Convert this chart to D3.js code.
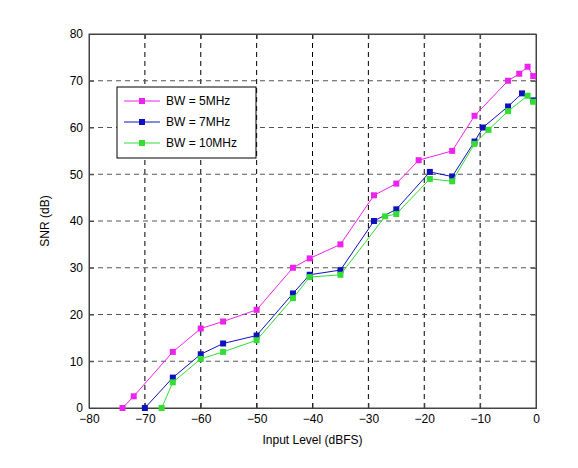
<!DOCTYPE html>
<html><head><meta charset="utf-8">
<script src="https://cdn.jsdelivr.net/npm/d3@7"></script>
<style>body{margin:0;background:#fff}svg{font-family:Arial,"Liberation Sans",sans-serif}</style>
</head><body><div id="chart"></div>
<script>
const xTicks = [-80, -70, -60, -50, -40, -30, -20, -10, 0];
const yTicks = [0, 10, 20, 30, 40, 50, 60, 70, 80];

const bw5 = [[-74,0],[-72,2.5],[-65,12],[-60,17],[-56,18.5],[-50,21],[-43.5,30],[-40.5,32],[-35,35],[-29,45.5],[-25,48],[-21,53],[-15,55],[-11,62.5],[-5,70],[-3,71.5],[-1.5,73],[-0.5,71]];
const bw7 = [[-70,0],[-65,6.5],[-60,11.5],[-56,13.8],[-50,15.5],[-43.5,24.5],[-40.5,28.5],[-35,29.5],[-29,40],[-25,42.5],[-19,50.5],[-15,49.5],[-11,57],[-9.5,60],[-5,64.5],[-2.5,67.3],[-0.5,65.8]];
const bw10 = [[-67,0],[-65,5.5],[-60,10.5],[-56,12],[-50,14.5],[-43.5,23.5],[-40.5,28],[-35,28.5],[-27,41],[-25,41.5],[-19,49],[-15,48.5],[-11,56.5],[-8.5,59.5],[-5,63.5],[-1.5,66.8],[-0.5,65.5]];

const seriesNames = ['BW = 5MHz', 'BW = 7MHz', 'BW = 10MHz'];
const seriesColors = ['#ee22ee', '#1010c0', '#33dd33'];
const seriesData = [bw5, bw7, bw10];

const svg = d3.select('#chart').append('svg').attr('width', 578).attr('height', 468);
const x = d3.scaleLinear().domain([-80, 0]).range([89, 536]);
const y = d3.scaleLinear().domain([0, 80]).range([408, 34]);

// grid
svg.append('g').selectAll('line').data(xTicks.slice(1, -1)).enter().append('line')
    .attr('x1', d => x(d)).attr('x2', d => x(d)).attr('y1', y(80)).attr('y2', y(0))
    .attr('stroke', '#000').attr('stroke-dasharray', '5,4').attr('stroke-width', 1);
svg.append('g').selectAll('line').data(yTicks.slice(1, -1)).enter().append('line')
    .attr('x1', x(-80)).attr('x2', x(0)).attr('y1', d => y(d)).attr('y2', d => y(d))
    .attr('stroke', '#555').attr('stroke-dasharray', '5,4').attr('stroke-width', 1);

svg.append('rect').attr('x', 89).attr('y', 34).attr('width', 447).attr('height', 374)
    .attr('fill', 'none').attr('stroke', '#444');

const xAxis = svg.append('g').attr('transform', 'translate(0,408)')
    .call(d3.axisBottom(x).tickValues(xTicks).tickSize(-5).tickPadding(6));
const yAxis = svg.append('g').attr('transform', 'translate(89,0)')
    .call(d3.axisLeft(y).tickValues(yTicks).tickSize(-5).tickPadding(6));
svg.append('g').attr('transform', 'translate(0,34)')
    .call(d3.axisTop(x).tickValues(xTicks).tickSize(-5).tickFormat(''));
svg.append('g').attr('transform', 'translate(536,0)')
    .call(d3.axisRight(y).tickValues(yTicks).tickSize(-5).tickFormat(''));
svg.selectAll('.domain').attr('stroke', '#444');
svg.selectAll('.tick line').attr('stroke', '#444');
svg.selectAll('.tick text').attr('font-size', 12).attr('fill', '#000');

svg.append('text').attr('x', x(-40)).attr('y', 444).attr('text-anchor', 'middle')
    .attr('font-size', 12).text('Input Level (dBFS)');
svg.append('text').attr('transform', 'translate(49,221) rotate(-90)').attr('text-anchor', 'middle')
    .attr('font-size', 12).text('SNR (dB)');

const line = d3.line().x(d => x(d[0])).y(d => y(d[1]));
seriesData.forEach((data, i) => {
    const g = svg.append('g');
    g.append('path').datum(data).attr('d', line).attr('fill', 'none')
        .attr('stroke', seriesColors[i]).attr('stroke-width', 1);
    g.selectAll('rect').data(data).enter().append('rect')
        .attr('x', d => x(d[0]) - 3).attr('y', d => y(d[1]) - 3)
        .attr('width', 6).attr('height', 6).attr('fill', seriesColors[i]);
});

// legend
const lg = svg.append('g');
lg.append('rect').attr('x', 117).attr('y', 87).attr('width', 139).attr('height', 71)
    .attr('fill', '#fff').attr('stroke', '#000');
seriesNames.forEach((name, i) => {
    const yy = 101 + i * 21;
    lg.append('line').attr('x1', 124).attr('x2', 160).attr('y1', yy).attr('y2', yy)
        .attr('stroke', seriesColors[i]);
    lg.append('rect').attr('x', 139).attr('y', yy - 3).attr('width', 6).attr('height', 6)
        .attr('fill', seriesColors[i]);
    lg.append('text').attr('x', 166).attr('y', yy + 4).attr('font-size', 12).text(name);
});
</script></body></html>
